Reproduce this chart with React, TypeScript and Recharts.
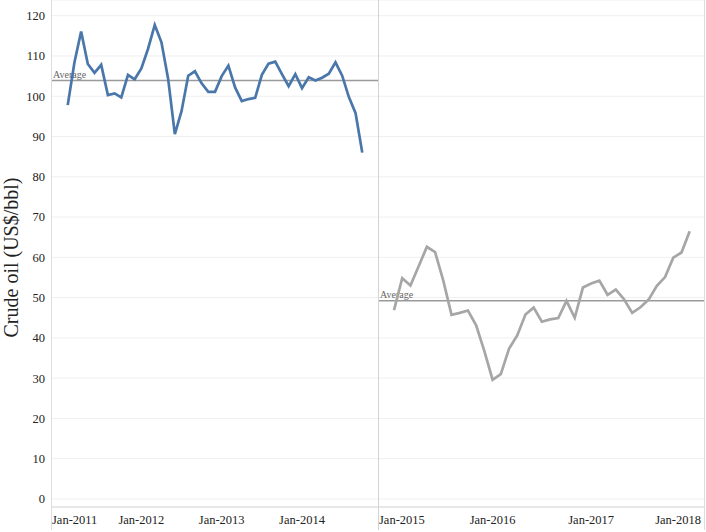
import React from 'react';
import { LineChart, Line, XAxis, YAxis, CartesianGrid, ReferenceLine } from 'recharts';

// monthly crude oil price, Feb-2011 .. Oct-2014
const leftValues = [
  97.8, 108.4, 116.1, 108.0, 105.8, 107.8, 100.3, 100.7, 99.7, 105.3, 104.2,
  106.9, 111.8, 117.7, 113.4, 104.3, 90.6, 96.3, 105.1, 106.2, 103.2, 101.1,
  101.1, 105.0, 107.6, 102.2, 98.8, 99.3, 99.6, 105.3, 108.1, 108.6, 105.5,
  102.5, 105.5, 102.0, 104.7, 103.9, 104.6, 105.6, 108.4, 105.1, 99.8, 95.8, 86.0,
];
// Jan-2015 .. Jan-2018
const rightValues = [
  46.9, 54.8, 53.0, 57.8, 62.6, 61.3, 54.2, 45.7, 46.2, 46.8, 43.1, 36.7,
  29.6, 31.0, 37.3, 40.6, 45.8, 47.5, 44.0, 44.6, 44.9, 49.2, 45.0, 52.5,
  53.5, 54.2, 50.7, 52.0, 49.6, 46.2, 47.6, 49.5, 52.9, 55.1, 59.9, 61.2, 66.5,
];

// month index, 0 = Jan-2011
const leftStartMonth = 1;
const rightStartMonth = 48;

const leftTicks = [0, 12, 24, 36];
const leftTickLabels = ['Jan-2011', 'Jan-2012', 'Jan-2013', 'Jan-2014'];
const rightTicks = [48, 60, 72, 84];
const rightTickLabels = ['Jan-2015', 'Jan-2016', 'Jan-2017', 'Jan-2018'];
const yTicks = [0, 10, 20, 30, 40, 50, 60, 70, 80, 90, 100, 110, 120];

const FONT = '"Liberation Serif", "Times New Roman", serif';
const H = 532;
const AXIS_H = 25;
const Y_W = 51;
const LEFT_W = 378;
const RIGHT_W = 326;
const Y_DOMAIN = [-2, 123.9];

const leftData = leftValues.map((v, i) => ({ m: leftStartMonth + i, price: v }));
const rightData = rightValues.map((v, i) => ({ m: rightStartMonth + i, price: v }));
const mean = (arr: number[]) => arr.reduce((a, b) => a + b, 0) / arr.length;

const XTick = (props: any) => {
  const { x, y, payload, ticks, labels, panelLeft, panelRight } = props;
  const idx = ticks.indexOf(payload.value);
  const text = labels[idx];
  let anchor = 'middle';
  let tx = x;
  if (idx === 0) {
    anchor = 'start';
    tx = Math.max(x - 23, panelLeft + 1);
  } else if (idx === ticks.length - 1 && x + 23 > panelRight) {
    anchor = 'end';
    tx = panelRight - 3;
  }
  return (
    <text x={tx} y={y} dy="0.71em" textAnchor={anchor} fontSize={12.5} fill="#222" fontFamily={FONT}>
      {text}
    </text>
  );
};

const YTick = (props: any) => {
  const { y, payload } = props;
  return (
    <text x={Y_W - 6} y={y} dy="0.35em" textAnchor="end" fontSize={12.5} fill="#222" fontFamily={FONT}>
      {payload.value}
    </text>
  );
};

const AxisTitle = (props: any) => {
  const vb = props.viewBox || { x: 0, y: 0, width: Y_W, height: H - AXIS_H };
  const cx = vb.x + 11;
  const cy = vb.y + vb.height / 2 + 4;
  return (
    <text x={cx} y={cy} transform={`rotate(-90, ${cx}, ${cy})`} textAnchor="middle" dominantBaseline="central"
      fontSize={20} fill="#222" fontFamily={FONT}>
      Crude oil (US$/bbl)
    </text>
  );
};

const AvgLabel = (props: any) => {
  const vb = props.viewBox || { x: 0, y: 0 };
  return (
    <text x={vb.x + 2} y={vb.y - 3} fontSize={10} fill="#666" fontFamily={FONT}>
      Average
    </text>
  );
};

const vline = (left: number, color: string): React.CSSProperties => ({
  position: 'absolute', left, top: 0, width: 1, height: 530, background: color,
});

export default function App() {
  const leftAvg = mean(leftValues);
  const rightAvg = mean(rightValues);

  return (
    <div style={{ position: 'absolute', left: 0, top: 0, width: 706, height: H, background: '#fff', overflow: 'hidden' }}>
      <div style={{ position: 'absolute', left: 0, top: 0 }}>
        <LineChart width={LEFT_W} height={H} data={leftData} margin={{ top: 0, right: 0, bottom: 0, left: 0 }}>
          <CartesianGrid vertical={false} stroke="#efefef" />
          <XAxis dataKey="m" type="number" domain={[-1.5, 47.35]} allowDataOverflow ticks={leftTicks} interval={0}
            height={AXIS_H} tickLine={false} axisLine={{ stroke: '#d8d8d8' }}
            tick={<XTick ticks={leftTicks} labels={leftTickLabels} panelLeft={Y_W} panelRight={LEFT_W} />} />
          <YAxis type="number" domain={Y_DOMAIN} allowDataOverflow ticks={yTicks} interval={0} width={Y_W}
            tickLine={false} axisLine={false} tick={<YTick />} label={<AxisTitle />} />
          <ReferenceLine y={leftAvg} stroke="#9a9a9a" strokeWidth={1.5} label={<AvgLabel />} />
          <Line type="linear" dataKey="price" stroke="#4a77aa" strokeWidth={2.7} dot={false} isAnimationActive={false} />
        </LineChart>
      </div>
      <div style={{ position: 'absolute', left: LEFT_W, top: 0 }}>
        <LineChart width={RIGHT_W} height={H} data={rightData} margin={{ top: 0, right: 0, bottom: 0, left: 0 }}>
          <CartesianGrid vertical={false} stroke="#efefef" />
          <XAxis dataKey="m" type="number" domain={[46.05, 85.74]} allowDataOverflow ticks={rightTicks} interval={0}
            height={AXIS_H} tickLine={false} axisLine={{ stroke: '#d8d8d8' }}
            tick={<XTick ticks={rightTicks} labels={rightTickLabels} panelLeft={0} panelRight={RIGHT_W} />} />
          <YAxis hide type="number" domain={Y_DOMAIN} allowDataOverflow ticks={yTicks} interval={0} width={0} />
          <ReferenceLine y={rightAvg} stroke="#9a9a9a" strokeWidth={1.5} label={<AvgLabel />} />
          <Line type="linear" dataKey="price" stroke="#a6a6a6" strokeWidth={2.7} dot={false} isAnimationActive={false} />
        </LineChart>
      </div>
      <div style={vline(Y_W, '#dedede')} />
      <div style={vline(LEFT_W, '#d4d4d4')} />
      <div style={vline(LEFT_W + RIGHT_W, '#dedede')} />
    </div>
  );
}
